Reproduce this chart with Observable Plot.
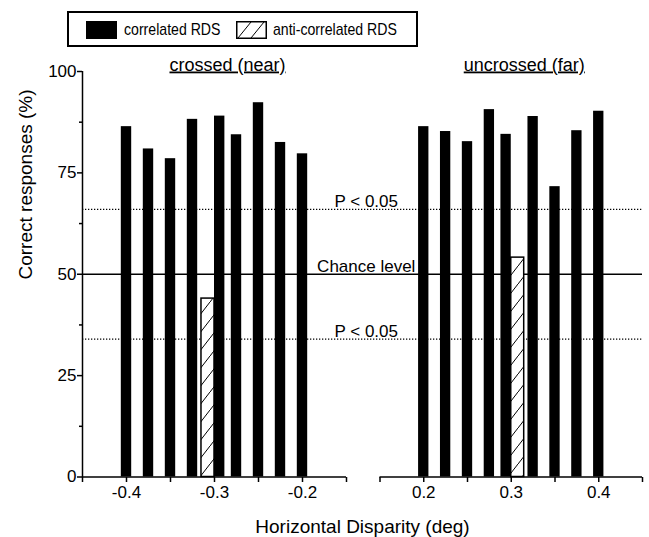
<!DOCTYPE html>
<html>
<head>
<meta charset="utf-8">
<script src="https://cdn.jsdelivr.net/npm/d3@7"></script>
<script src="https://cdn.jsdelivr.net/npm/@observablehq/plot@0.6"></script>
<style>
  body { margin: 0; background: #fff; }
  #legend { position: relative; width: 649px; height: 50px; font-family: "Liberation Sans", Arial, sans-serif; }
  #legend .box { position: absolute; left: 67px; top: 11px; width: 347px; height: 32px; border: 2px solid #000; }
  #legend .sw { position: absolute; top: 8px; width: 31px; height: 18px; }
  #legend .lbl { position: absolute; top: 8px; font-size: 17px; line-height: 17px; color: #000; white-space: nowrap; transform: scaleX(0.83); transform-origin: 0 50%; }
  #chart svg { display: block; }
</style>
</head>
<body>
<div id="legend">
  <div class="box">
    <div class="sw" style="left:17px;background:#000;"></div>
    <span class="lbl" style="left:55px;">correlated RDS</span>
    <svg class="sw" style="left:167px;" width="31" height="18" viewBox="0 0 31 18">
      <rect x="0.75" y="0.75" width="29.5" height="16.5" fill="#fff" stroke="#000" stroke-width="1.5"/>
      <path d="M2,17 L15,1 M15,17 L28,1" stroke="#000" stroke-width="1"/>
    </svg>
    <span class="lbl" style="left:204px;">anti-correlated RDS</span>
  </div>
</div>
<div id="chart"></div>
<script>
// ---- data ----
const nearDisparity = [-0.4, -0.375, -0.35, -0.325, -0.3, -0.275, -0.25, -0.225, -0.2];
const nearCorrelated = [86.4, 80.9, 78.5, 88.2, 89.0, 84.4, 92.3, 82.5, 79.7];
const farDisparity = [0.2, 0.225, 0.25, 0.275, 0.3, 0.325, 0.35, 0.375, 0.4];
const farCorrelated = [86.4, 85.2, 82.7, 90.6, 84.5, 88.9, 71.6, 85.4, 90.2];
const antiDisparity = [-0.3, 0.3];
const antiCorrelated = [44.0, 54.1];
const panelDomains = [[-0.45, -0.15], [0.15, 0.45]];
const panelTitles = ["crossed (near)", "uncrossed (far)"];
const refLevels = [66, 50, 34];
const refLabels = ["P < 0.05", "Chance level", "P < 0.05"];
const refDotted = [true, false, true];
const yTicks = [0, 25, 50, 75, 100];
const yMinorTicks = [12.5, 37.5, 62.5, 87.5];
const xTickLabels = [-0.4, -0.3, -0.2, 0.2, 0.3, 0.4];
const xMinorTicks = [-0.45, -0.35, -0.25, -0.15, 0.15, 0.25, 0.35, 0.45];
const yLabel = "Correct responses (%)";
const xLabel = "Horizontal Disparity (deg)";

// ---- build rows ----
const barW = 0.0118, hatchW = 0.0148;
const correlated = [
  ...nearDisparity.map((d, i) => ({d, v: nearCorrelated[i]})),
  ...farDisparity.map((d, i) => ({d, v: farCorrelated[i]}))
].map(r => {
  const s = Math.sign(r.d), a = Math.abs(r.d);
  const paired = antiDisparity.some(p => Math.abs(p - r.d) < 1e-9);
  const lo = paired ? a - barW : a - barW / 2;
  const hi = paired ? a : a + barW / 2;
  return {...r, x1: s * lo, x2: s * hi};
});
const anti = antiDisparity.map((d, i) => {
  const s = Math.sign(d), a = Math.abs(d);
  return {d, v: antiCorrelated[i], x1: s * a, x2: s * (a + hatchW)};
});
const refs = refLevels.map((y, i) => ({y, label: refLabels[i], dotted: refDotted[i]}));
const titles = panelTitles.map((t, i) => ({t, x: (panelDomains[i][0] + panelDomains[i][1]) / 2}));

const font = "'Liberation Sans', Arial, sans-serif";
const chart = Plot.plot({
  width: 649,
  height: 487,
  marginTop: 21,
  marginBottom: 60,
  marginLeft: 82,
  marginRight: 7,
  style: {fontFamily: font, fontSize: "17px", color: "#000", background: "#fff", overflow: "visible"},
  x: {type: "linear", domain: panelDomains.flat(), range: [82, 346, 379.5, 642]},
  y: {domain: [0, 100], range: [426.5, 21]},
  marks: [
    Plot.ruleY(refs.filter(r => r.dotted), {y: "y", x1: panelDomains[0][0], x2: panelDomains[1][1], stroke: "#000", strokeWidth: 1.3, strokeDasharray: "1.3,1.7"}),
    Plot.ruleY(refs.filter(r => !r.dotted), {y: "y", x1: panelDomains[0][0], x2: panelDomains[1][1], stroke: "#000", strokeWidth: 1.3}),
    Plot.rect(correlated, {x1: "x1", x2: "x2", y1: 0, y2: "v", fill: "#000"}),
    Plot.rect(anti, {x1: "x1", x2: "x2", y1: 0, y2: "v", fill: "url(#hatch)", stroke: "#000", strokeWidth: 1.5}),
    Plot.ruleX([panelDomains[0][0]], {stroke: "#000", strokeWidth: 1.5}),
    Plot.ruleY(panelDomains, {y: 0, x1: d => d[0], x2: d => d[1], stroke: "#000", strokeWidth: 1.5}),
    Plot.axisY({ticks: yTicks, tickSize: 5, tickPadding: 1, fontSize: 17, label: null, strokeWidth: 1.5}),
    Plot.axisY({ticks: yMinorTicks, tickSize: 3, tickFormat: () => "", label: null, strokeWidth: 1.5}),
    Plot.axisX({ticks: xTickLabels, tickSize: 5, tickPadding: 3, fontSize: 17, tickFormat: d => String(d), label: null, strokeWidth: 1.5}),
    Plot.axisX({ticks: xMinorTicks, tickSize: 5, tickFormat: () => "", label: null, strokeWidth: 1.5}),
    Plot.text(refs, {y: "y", x: () => 0, text: "label", dx: 3, dy: -2, lineAnchor: "bottom", fontSize: 17, fill: "#000"}),
    Plot.text(titles, {x: "x", text: "t", frameAnchor: "top", dx: 13, dy: -1, lineAnchor: "bottom", fontSize: 18, fill: "#000", className: "ptitle"}),
    Plot.text([yLabel], {text: d => d, frameAnchor: "left", rotate: -90, dx: -57, dy: 5, fontSize: 19, fill: "#000"}),
    Plot.text([xLabel], {text: d => d, frameAnchor: "bottom", dy: 55, lineAnchor: "bottom", fontSize: 19, fill: "#000"})
  ]
});

const defs = d3.select(chart).insert("defs", ":first-child");
const pat = defs.append("pattern").attr("id", "hatch").attr("patternUnits", "userSpaceOnUse")
  .attr("width", 14).attr("height", 18);
pat.append("rect").attr("width", 14).attr("height", 18).attr("fill", "#fff");
pat.append("path").attr("d", "M-1,19.3 L15,-1.3").attr("stroke", "#000").attr("stroke-width", 1).attr("fill", "none");
d3.select(chart).selectAll(".ptitle text").style("text-decoration", "underline");

document.getElementById("chart").appendChild(chart);
</script>
</body>
</html>
